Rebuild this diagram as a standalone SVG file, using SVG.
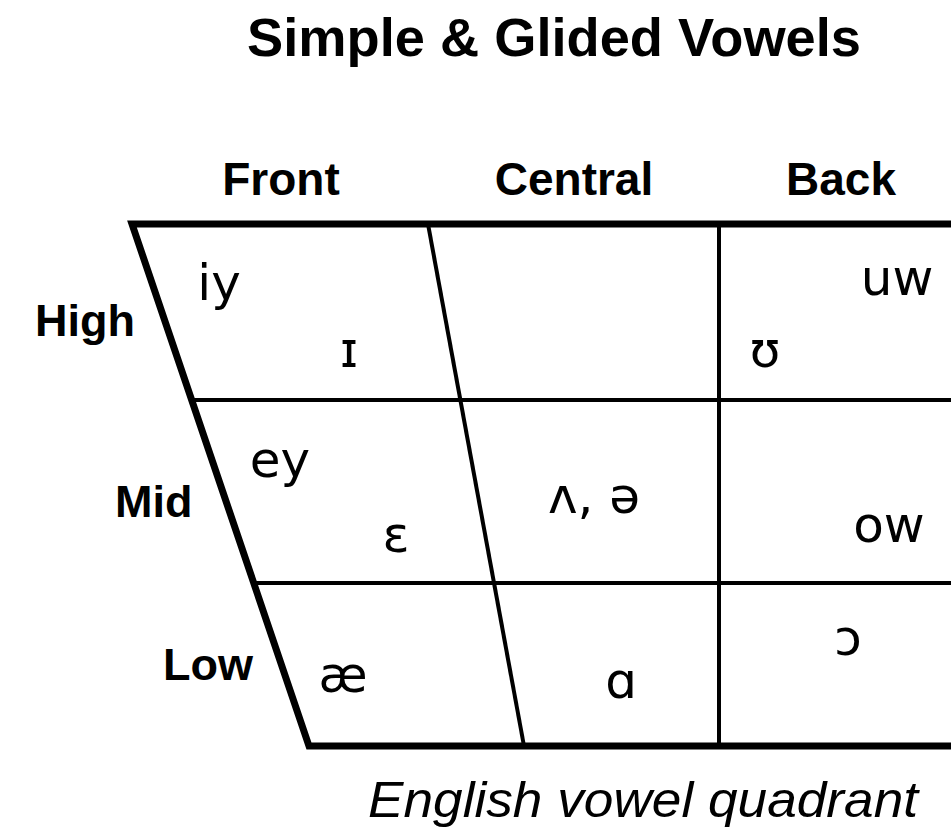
<svg xmlns="http://www.w3.org/2000/svg" width="951" height="833" viewBox="0 0 951 833">
  <style>
    .title { font-family: "Liberation Sans", Arial, sans-serif; font-weight: bold; font-size: 53px; fill: #000; }
    .hdr { font-family: "Liberation Sans", Arial, sans-serif; font-weight: bold; font-size: 46px; fill: #000; }
    .row { font-family: "Liberation Sans", Arial, sans-serif; font-weight: bold; font-size: 45px; fill: #000; }
    .v { font-family: "DejaVu Sans", "Liberation Sans", sans-serif; font-size: 50px; fill: #000; }
    .cap { font-family: "Liberation Sans", Arial, sans-serif; font-style: italic; font-size: 50px; fill: #000; }
    .thick { fill: none; stroke: #000; stroke-width: 7; stroke-linejoin: miter; }
    .thin { fill: none; stroke: #000; stroke-width: 4; }
  </style>
  <rect width="951" height="833" fill="#fff"/>
  <g id="title">
    <text class="title" x="247" y="56" textLength="614" lengthAdjust="spacingAndGlyphs">Simple &amp; Glided Vowels</text>
  </g>
  <g id="headers">
    <text class="hdr" x="281" y="195" text-anchor="middle">Front</text>
    <text class="hdr" x="574" y="195" text-anchor="middle">Central</text>
    <text class="hdr" x="841" y="195" text-anchor="middle">Back</text>
  </g>
  <g id="row-labels">
    <text class="row" x="35" y="336">High</text>
    <text class="row" x="115" y="517">Mid</text>
    <text class="row" x="163" y="680">Low</text>
  </g>
  <g id="grid">
    <polyline class="thick" points="951,224 132,224 309,746 951,746"/>
    <line class="thin" x1="194" y1="400" x2="951" y2="400"/>
    <line class="thin" x1="256" y1="583" x2="951" y2="583"/>
    <line class="thin" x1="428" y1="224" x2="524" y2="746"/>
    <line class="thin" x1="719" y1="224" x2="719" y2="746"/>
  </g>
  <g id="vowels">
    <text class="v" x="219" y="300" text-anchor="middle">iy</text>
    <text class="v" x="349" y="367" text-anchor="middle">ɪ</text>
    <text class="v" x="897" y="295" text-anchor="middle">uw</text>
    <text class="v" x="765" y="367" text-anchor="middle">ʊ</text>
    <text class="v" x="280" y="477" text-anchor="middle">ey</text>
    <text class="v" x="396" y="552" text-anchor="middle">ɛ</text>
    <text class="v" x="594" y="513" text-anchor="middle">ʌ, ə</text>
    <text class="v" x="889" y="542" text-anchor="middle">ow</text>
    <text class="v" x="343" y="692" text-anchor="middle">æ</text>
    <text class="v" x="621" y="698" text-anchor="middle">ɑ</text>
    <text class="v" x="848" y="655" text-anchor="middle">ɔ</text>
  </g>
  <g id="caption">
    <text class="cap" x="368" y="817" textLength="550" lengthAdjust="spacingAndGlyphs">English vowel quadrant</text>
  </g>
</svg>
